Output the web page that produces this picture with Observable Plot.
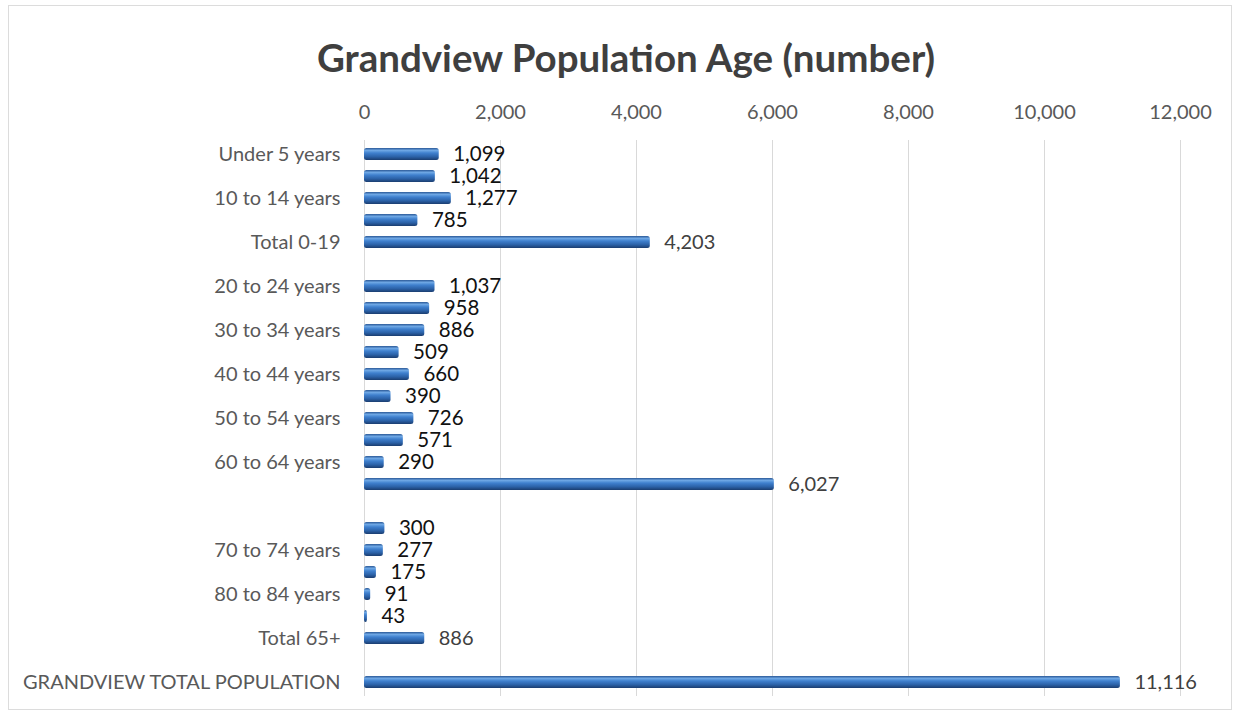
<!DOCTYPE html>
<html>
<head>
<meta charset="utf-8">
<script src="https://cdn.jsdelivr.net/npm/d3@7"></script>
<script src="https://cdn.jsdelivr.net/npm/@observablehq/plot@0.6"></script>
<style>
  html, body { margin: 0; padding: 0; background: #fff; }
  #frame {
    position: absolute; left: 8px; top: 5px; width: 1224px; height: 705px;
    border: 1px solid #dcdcdc; box-sizing: border-box;
  }
  #title {
    position: absolute; left: 0; width: 1252px; top: 35px;
    text-align: center; font-family: Lato, sans-serif; font-weight: 700;
    font-size: 38.5px; line-height: 44px; color: #3f3f3f;
  }
  #chart { position: absolute; left: 0; top: 80px; }
</style>
</head>
<body>
<div id="frame"></div>
<div id="title">Grandview Population Age (number)</div>
<div id="chart"></div>
<script>
// Age groups, top to bottom; empty strings are the spacer rows between sections
const categories = [
  "Under 5 years", "5 to 9 years", "10 to 14 years", "15 to 19 years", "Total 0-19",
  "",
  "20 to 24 years", "25 to 29 years", "30 to 34 years", "35 to 39 years", "40 to 44 years",
  "45 to 49 years", "50 to 54 years", "55 to 59 years", "60 to 64 years", "Total 20-64",
  "",
  "65 to 69 years", "70 to 74 years", "75 to 79 years", "80 to 84 years", "85 years and over",
  "Total 65+",
  "",
  "GRANDVIEW TOTAL POPULATION"
];

// Residents in each group (null for spacer rows)
const population = [
  1099, 1042, 1277, 785, 4203,
  null,
  1037, 958, 886, 509, 660, 390, 726, 571, 290, 6027,
  null,
  300, 277, 175, 91, 43, 886,
  null,
  11116
];

// Subtotal rows, labelled in a lighter weight
const totalRows = ["Total 0-19", "Total 20-64", "Total 65+", "GRANDVIEW TOTAL POPULATION"];

const xTicks = [0, 2000, 4000, 6000, 8000, 10000, 12000];

const rows = categories.map((label, i) => ({i, label, value: population[i]}));
const bars = rows.filter(d => d.value != null);
const fmt = d3.format(",");

const chart = Plot.plot({
  width: 1240,
  height: 625,
  marginLeft: 364,
  marginRight: 60,
  marginTop: 60,
  marginBottom: 9,
  style: {fontFamily: "Lato, sans-serif", fontSize: "20px", color: "#595959", background: "transparent"},
  x: {domain: [0, 12000], axis: null},
  y: {type: "band", domain: d3.range(categories.length), paddingInner: 0.47, paddingOuter: 0.3, axis: null},
  marks: [
    Plot.ruleX(xTicks, {stroke: "#d9d9d9", strokeWidth: 1}),
    Plot.axisX({anchor: "top", ticks: xTicks, tickFormat: fmt, tickSize: 0, tickPadding: 22,
      fill: "#595959", fontSize: 20, label: null}),
    Plot.axisY({
      anchor: "left", tickSize: 0, tickPadding: 24, fill: "#595959", fontSize: 20, label: null,
      tickFormat: i => (i % 2 === 0 ? categories[i] : "")
    }),
    Plot.barX(bars, {x: "value", y: "i", fill: "url(#barGrad)", rx: 2.5}),
    Plot.text(bars, {
      x: "value", y: "i", text: d => fmt(d.value), textAnchor: "start", dx: 14,
      fontSize: d => (totalRows.includes(d.label) ? 20 : 20.5),
      fill: d => (totalRows.includes(d.label) ? "#404040" : "#111111"),
      fontWeight: d => (totalRows.includes(d.label) ? 400 : 700)
    })
  ]
});

// Vertical gradient giving the bars a rounded, glossy look
const defs = d3.select(chart).insert("defs", ":first-child");
const grad = defs.append("linearGradient")
  .attr("id", "barGrad").attr("x1", 0).attr("y1", 0).attr("x2", 0).attr("y2", 1);
[
  ["0%", "#2a5896"], ["20%", "#6ea7e4"], ["42%", "#3f80ce"],
  ["72%", "#2c62a8"], ["100%", "#1a3d70"]
].forEach(([o, c]) => grad.append("stop").attr("offset", o).attr("stop-color", c));

document.getElementById("chart").append(chart);
</script>
</body>
</html>
